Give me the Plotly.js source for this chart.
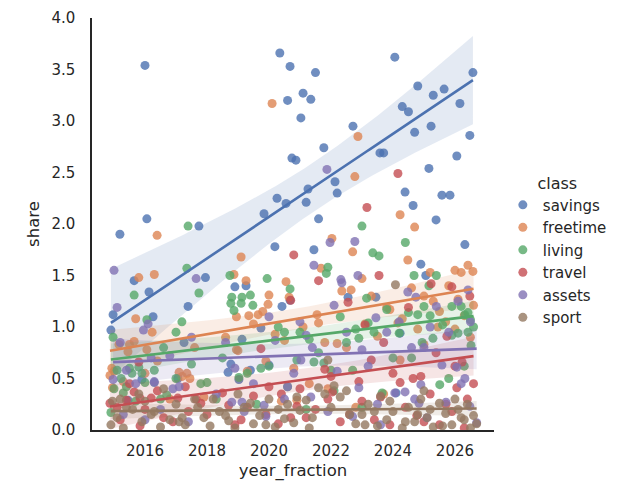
<!DOCTYPE html>
<html>
<head>
<meta charset="utf-8">
<script src="https://cdn.plot.ly/plotly-3.0.1.min.js"></script>
<style>
  html, body { margin: 0; padding: 0; background: #ffffff; }
  #chart { width: 619px; height: 500px; }
</style>
</head>
<body>
<div id="chart"></div>
<script>
// Class names and colours (seaborn "deep" palette order)
const classes = ["savings", "freetime", "living", "travel", "assets", "sport"];
const colors = ["#4C72B0", "#DD8452", "#55A868", "#C44E52", "#8172B3", "#937860"];

// savings (some observations lie above the 4.0 axis limit)
const savingsX = [2014.97, 2014.90, 2015.19, 2015.65, 2016.00, 2016.06, 2016.13, 2016.26, 2016.30, 2015.90,
  2015.45, 2017.39, 2017.26, 2017.06, 2017.74, 2017.95, 2018.77, 2018.68, 2019.03, 2019.40,
  2020.00, 2019.13, 2019.74, 2020.42, 2018.90, 2019.26, 2019.84, 2020.26, 2020.55, 2020.19,
  2020.68, 2020.35, 2020.68, 2020.60, 2020.74, 2020.87, 2021.03, 2021.10, 2021.35, 2021.50,
  2021.26, 2021.20, 2021.60, 2021.45, 2021.77, 2022.13, 2022.20, 2022.71, 2022.55, 2023.45,
  2023.58, 2023.70, 2024.06, 2024.30, 2024.50, 2024.80, 2024.70, 2025.30, 2025.65, 2025.23,
  2026.58, 2026.16, 2026.48, 2026.06, 2025.16, 2024.39, 2024.65, 2025.58, 2025.84, 2025.39,
  2026.32, 2024.90, 2025.06, 2024.23, 2024.10,
  2023.90, 2024.60, 2025.00, 2025.50, 2025.90, 2026.30, 2026.55,
  2016.60, 2020.90, 2022.40, 2023.20];
const savingsY = [1.12, 0.97, 1.90, 1.45, 3.54, 2.05, 1.34, 1.10, 0.46, 0.49,
  0.29, 1.20, 0.85, 0.50, 1.98, 1.48, 0.64, 0.56, 0.49, 0.58,
  0.63, 0.88, 0.99, 1.20, 1.39, 1.40, 2.10, 2.25, 2.20, 1.78,
  1.26, 3.66, 3.53, 3.20, 2.64, 2.62, 3.03, 3.27, 3.21, 3.47,
  2.34, 2.21, 2.05, 1.75, 2.74, 2.41, 2.30, 2.95, 1.29, 1.29,
  2.69, 2.69, 3.62, 3.14, 3.09, 3.34, 2.89, 3.25, 3.31, 2.95,
  3.47, 3.17, 2.86, 2.66, 2.54, 2.31, 2.18, 2.28, 2.28, 2.04,
  1.80, 1.61, 1.50, 0.94, 0.36,
  4.60, 5.20, 4.70, 5.60, 4.90, 5.30, 4.50,
  4.30, 4.50, 4.20, 4.60];

// freetime
const freetimeX = [2014.87, 2014.95, 2014.93, 2015.16, 2015.65, 2015.70, 2015.45, 2016.23, 2016.06, 2015.80,
  2016.30, 2016.39, 2017.10, 2017.35, 2017.45, 2018.95, 2019.35, 2019.65, 2019.80, 2019.97,
  2019.10, 2018.87, 2019.26, 2020.00, 2020.55, 2020.65, 2020.10, 2019.30, 2018.95, 2021.68,
  2022.03, 2022.70, 2022.77, 2022.87, 2023.00, 2022.35, 2022.65, 2021.55, 2021.60, 2022.20,
  2020.90, 2021.90, 2023.80, 2024.23, 2024.70, 2024.48, 2025.20, 2026.00, 2026.20, 2026.42,
  2026.58, 2024.16, 2025.45, 2024.23, 2025.00, 2025.30, 2025.80, 2026.10, 2024.60, 2023.30,
  2015.00, 2015.30, 2015.50, 2016.00, 2016.40, 2016.80, 2017.20, 2017.60, 2018.60, 2019.00,
  2019.50, 2019.90, 2020.20, 2020.50, 2020.80, 2021.10, 2021.30, 2021.80, 2022.50, 2022.80,
  2023.10, 2023.50, 2023.90, 2024.30, 2024.80, 2025.00, 2025.50, 2025.70, 2026.00, 2026.30,
  2026.50, 2026.60, 2017.90, 2020.40, 2023.70];
const freetimeY = [0.53, 0.41, 0.60, 0.83, 0.86, 1.08, 0.76, 0.95, 0.78, 1.48,
  1.51, 1.89, 0.56, 0.55, 0.50, 1.10, 1.11, 1.12, 1.15, 1.22,
  1.68, 1.51, 1.45, 1.31, 1.44, 1.29, 3.17, 0.57, 0.78, 1.57,
  1.86, 1.73, 2.46, 2.85, 1.47, 1.35, 1.36, 1.12, 1.04, 0.84,
  0.29, 0.40, 1.19, 2.09, 1.97, 1.65, 1.53, 1.55, 1.53, 1.60,
  1.54, 1.04, 1.00, 0.68, 1.30, 1.25, 1.40, 1.27, 1.38, 1.30,
  0.57, 0.47, 0.83, 0.55, 0.67, 0.30, 0.52, 0.80, 0.90, 0.77,
  1.03, 0.67, 0.93, 0.87, 0.60, 1.00, 0.45, 0.85, 0.80, 0.22,
  1.03, 0.91, 1.17, 1.08, 0.98, 0.83, 1.15, 1.05, 0.98, 1.11,
  0.90, 1.21, 0.32, 0.28, 0.35];

// living
const livingX = [2015.65, 2017.39, 2017.35, 2017.74, 2018.74, 2019.94, 2018.80, 2019.13, 2019.40, 2020.68,
  2023.00, 2023.35, 2023.55, 2021.90, 2021.85, 2023.15, 2024.40, 2024.68, 2025.40, 2025.16,
  2014.97, 2016.06, 2015.10, 2015.23, 2015.58, 2015.80, 2015.90, 2017.19, 2018.77, 2019.10,
  2019.48, 2018.87, 2019.03, 2019.74, 2021.45, 2021.77, 2022.90, 2023.39, 2022.70, 2023.65,
  2024.80, 2025.20, 2024.94, 2025.29, 2026.10, 2026.42, 2026.52, 2025.51, 2026.32, 2026.42,
  2025.90, 2020.30, 2021.00, 2016.60, 2017.00, 2022.30, 2024.00, 2014.90,
  2015.00, 2015.30, 2015.50, 2015.70, 2016.00, 2016.30, 2016.70, 2017.00, 2017.50, 2018.00,
  2018.50, 2019.30, 2020.00, 2020.50, 2020.90, 2021.30, 2021.60, 2022.00, 2022.50, 2022.80,
  2023.20, 2023.80, 2024.20, 2024.50, 2025.00, 2025.60, 2025.90, 2026.20, 2026.50, 2026.60,
  2015.40, 2016.50, 2017.80, 2018.30, 2019.60, 2020.60, 2022.10, 2023.00, 2024.60, 2025.80,
  2026.30, 2021.20];
const livingY = [1.31, 1.98, 1.57, 1.33, 1.50, 1.47, 1.29, 1.29, 1.31, 1.37,
  1.98, 1.72, 1.69, 1.58, 1.52, 1.28, 1.82, 1.50, 1.50, 1.40,
  0.90, 1.07, 0.58, 0.50, 0.55, 0.61, 0.55, 1.05, 1.23, 1.23,
  1.21, 1.16, 0.51, 0.60, 0.66, 0.65, 0.89, 0.95, 0.58, 0.36,
  1.12, 1.11, 0.85, 0.89, 0.94, 0.95, 0.82, 0.44, 1.12, 1.14,
  1.20, 1.00, 0.95, 0.80, 0.95, 1.10, 0.70, 0.17,
  0.40, 0.36, 0.60, 0.28, 0.46, 0.58, 0.34, 0.50, 0.64, 0.46,
  0.70, 0.55, 0.62, 0.95, 0.68, 0.88, 0.75, 0.58, 0.85, 0.98,
  1.04, 1.17, 0.94, 1.14, 1.20, 1.02, 0.92, 1.20, 1.07, 1.00,
  0.42, 0.30, 0.45, 0.30, 0.25, 0.42, 0.38, 0.22, 0.70, 0.50,
  0.62, 0.20];

// travel
const travelX = [2023.16, 2020.80, 2023.55, 2021.60, 2024.16, 2025.23, 2025.90, 2026.48, 2020.70, 2022.55,
  2023.10, 2023.70, 2023.30, 2021.80, 2022.90, 2022.05, 2023.60, 2020.90, 2024.50, 2025.74,
  2025.39, 2026.23, 2024.65, 2024.90, 2026.06, 2024.23, 2025.71, 2024.77, 2015.65, 2015.84,
  2016.20, 2014.87, 2015.10, 2015.40, 2017.06, 2015.84, 2019.74, 2020.00, 2017.65, 2017.80,
  2015.80, 2016.60, 2017.40, 2018.70, 2019.10, 2019.50, 2020.30, 2021.20, 2022.30, 2023.90,
  2025.00, 2026.30, 2026.60, 2021.90, 2018.90,
  2015.20, 2015.50, 2016.00, 2016.40, 2016.90, 2017.30, 2018.00, 2018.50, 2019.30, 2019.90,
  2020.40, 2020.70, 2021.00, 2021.50, 2022.00, 2022.60, 2023.00, 2023.40, 2024.00, 2024.40,
  2025.20, 2025.50, 2025.90, 2026.40, 2026.00];
const travelY = [2.16, 1.70, 1.50, 1.45, 2.49, 1.42, 1.39, 1.30, 1.26, 1.24,
  1.02, 0.85, 0.68, 0.59, 0.47, 0.37, 0.32, 0.23, 1.19, 0.91,
  0.75, 0.66, 0.50, 0.52, 0.41, 0.46, 0.25, 0.14, 0.37, 0.31,
  0.31, 0.26, 0.22, 0.29, 0.31, 0.04, 0.79, 0.42, 0.30, 0.26,
  0.66, 0.12, 0.18, 0.24, 0.10, 0.33, 0.06, 0.12, 0.08, 0.05,
  0.08, 0.02, 0.45, 0.30, 0.05,
  0.10, 0.45, 0.20, 0.38, 0.08, 0.42, 0.15, 0.36, 0.22, 0.15,
  0.35, 0.12, 0.40, 0.20, 0.52, 0.15, 0.28, 0.10, 0.55, 0.22,
  0.35, 0.05, 0.18, 0.30, 0.62];

// assets
const assetsX = [2015.00, 2017.65, 2021.87, 2021.97, 2022.77, 2021.45, 2022.32, 2022.87, 2022.35, 2024.48,
  2024.74, 2026.42, 2015.10, 2015.95, 2014.97, 2017.10, 2015.30, 2016.00, 2016.50, 2017.40,
  2018.80, 2019.20, 2019.90, 2020.60, 2019.13, 2019.84, 2022.10, 2023.45, 2021.20, 2021.03,
  2023.00, 2022.20, 2021.35, 2022.90, 2022.70, 2025.58, 2026.06, 2026.32, 2024.90, 2024.39,
  2024.06, 2024.84, 2025.71, 2026.48, 2015.40, 2016.10, 2016.80, 2020.20, 2021.00, 2023.80,
  2024.60, 2025.20, 2016.30, 2018.90, 2020.50, 2023.60, 2025.10, 2026.70,
  2015.20, 2015.70, 2016.20, 2016.90, 2017.50, 2018.30, 2018.60, 2019.50, 2020.00, 2020.80,
  2021.40, 2021.90, 2022.50, 2023.20, 2023.50, 2024.20, 2024.70, 2025.00, 2025.40, 2025.80,
  2026.10, 2026.50, 2026.20];
const assetsY = [1.55, 1.47, 2.53, 1.82, 1.83, 1.60, 1.46, 1.50, 1.43, 1.34,
  1.29, 1.36, 1.19, 0.97, 0.49, 0.42, 0.15, 0.10, 0.20, 0.08,
  0.27, 0.18, 0.13, 0.42, 0.27, 0.24, 1.21, 1.09, 0.92, 0.68,
  0.78, 0.57, 0.32, 0.41, 0.13, 0.63, 0.61, 0.50, 0.44, 0.37,
  0.36, 0.26, 0.27, 0.23, 0.58, 1.03, 0.72, 0.87, 1.05, 0.95,
  0.80, 1.00, 0.47, 0.60, 0.30, 0.05, 0.12, 0.07,
  0.85, 0.45, 0.70, 0.40, 0.90, 0.35, 0.85, 0.45, 1.10, 0.55,
  0.80, 0.18, 0.95, 0.62, 0.25, 1.05, 0.30, 0.80, 1.20, 0.95,
  1.25, 1.05, 0.45];

// sport
const sportX = [2014.90, 2015.10, 2015.30, 2015.60, 2015.90, 2016.20, 2016.50, 2016.80, 2017.00, 2017.30,
  2017.60, 2017.90, 2018.10, 2018.40, 2018.70, 2018.90, 2019.20, 2019.50, 2019.70, 2020.00,
  2020.20, 2020.50, 2020.80, 2021.00, 2021.30, 2021.60, 2021.80, 2021.90, 2022.10, 2022.30,
  2022.50, 2022.80, 2023.00, 2023.20, 2023.50, 2023.80, 2024.00, 2024.08, 2024.30, 2024.50,
  2024.70, 2024.90, 2025.10, 2025.30, 2025.50, 2025.70, 2025.90, 2026.10, 2026.30, 2026.50,
  2026.60, 2015.20, 2016.00, 2017.20, 2019.00, 2020.60, 2023.60, 2025.00, 2026.00, 2021.20,
  2014.95, 2015.40, 2015.80, 2016.30, 2016.60, 2017.10, 2017.70, 2018.20, 2018.60, 2019.40,
  2019.90, 2020.30, 2020.90, 2021.40, 2022.00, 2022.60, 2023.10, 2023.40, 2023.90, 2024.40,
  2024.80, 2025.20, 2025.60, 2026.20, 2026.40, 2026.70];
const sportY = [0.05, 0.12, 0.02, 0.20, 0.08, 0.15, 0.03, 0.10, 0.25, 0.05,
  0.30, 0.12, 0.04, 0.18, 0.09, 0.02, 0.22, 0.06, 0.14, 0.30,
  0.03, 0.11, 0.07, 0.19, 0.02, 0.41, 0.35, 0.68, 0.43, 0.32,
  0.38, 0.06, 0.15, 0.25, 0.04, 0.10, 0.18, 1.41, 0.02, 0.22,
  0.08, 0.30, 0.12, 0.03, 0.26, 0.16, 0.05, 0.20, 0.10, 0.02,
  0.14, 0.30, 0.28, 0.12, 0.35, 0.25, 0.33, 0.38, 0.30, 0.29,
  0.28, 0.22, 0.35, 0.18, 0.40, 0.08, 0.22, 0.30, 0.14, 0.26,
  0.05, 0.20, 0.32, 0.12, 0.22, 0.15, 0.05, 0.18, 0.28, 0.08,
  0.15, 0.20, 0.04, 0.12, 0.25, 0.06];

const seriesX = [savingsX, freetimeX, livingX, travelX, assetsX, sportX];
const seriesY = [savingsY, freetimeY, livingY, travelY, assetsY, sportY];

// Ordinary least squares fit with a 95% confidence band for the mean
function linearFit(xs, ys, nGrid) {
  const n = xs.length;
  const mx = xs.reduce((a, b) => a + b, 0) / n;
  const my = ys.reduce((a, b) => a + b, 0) / n;
  let sxx = 0, sxy = 0;
  for (let i = 0; i < n; i++) {
    sxx += (xs[i] - mx) * (xs[i] - mx);
    sxy += (xs[i] - mx) * (ys[i] - my);
  }
  const slope = sxy / sxx;
  const icpt = my - slope * mx;
  let sse = 0;
  for (let i = 0; i < n; i++) {
    const r = ys[i] - (icpt + slope * xs[i]);
    sse += r * r;
  }
  const df = n - 2;
  const s = Math.sqrt(sse / df);
  const t = 1.96 + 2.4 / df;
  const lo = Math.min(...xs), hi = Math.max(...xs);
  const gx = [], gy = [], up = [], dn = [];
  for (let k = 0; k < nGrid; k++) {
    const x = lo + (hi - lo) * k / (nGrid - 1);
    const yhat = icpt + slope * x;
    const se = s * Math.sqrt(1 / n + (x - mx) * (x - mx) / sxx);
    gx.push(x); gy.push(yhat);
    up.push(yhat + t * se); dn.push(yhat - t * se);
  }
  return { gx, gy, up, dn };
}

function rgba(hex, a) {
  const v = parseInt(hex.slice(1), 16);
  return `rgba(${(v >> 16) & 255},${(v >> 8) & 255},${v & 255},${a})`;
}

// Points and confidence bands per class; fitted lines drawn last, on top
const traces = [];
const lineTraces = [];
classes.forEach((name, i) => {
  const fit = linearFit(seriesX[i], seriesY[i], 100);
  traces.push({
    type: "scatter", mode: "markers", name: name,
    x: seriesX[i], y: seriesY[i],
    marker: { color: colors[i], size: 9, opacity: 0.8, line: { width: 0 } },
    hoverinfo: "x+y+name", cliponaxis: true
  });
  traces.push({
    type: "scatter", mode: "lines", showlegend: false, hoverinfo: "skip",
    x: fit.gx.concat(fit.gx.slice().reverse()),
    y: fit.up.concat(fit.dn.slice().reverse()),
    fill: "toself", fillcolor: rgba(colors[i], 0.15),
    line: { width: 0, color: "rgba(0,0,0,0)" }
  });
  lineTraces.push({
    type: "scatter", mode: "lines", showlegend: false, hoverinfo: "skip",
    x: fit.gx, y: fit.gy,
    line: { color: colors[i], width: 2.6 }
  });
});

const font = "DejaVu Sans, Verdana, sans-serif";
const layout = {
  width: 619, height: 500,
  margin: { l: 92, r: 125, t: 18, b: 70, autoexpand: false },
  paper_bgcolor: "#ffffff", plot_bgcolor: "#ffffff",
  font: { family: font, color: "#262626", size: 15 },
  showlegend: true,
  xaxis: {
    range: [2014.29, 2027.26], tickvals: [2016, 2018, 2020, 2022, 2024, 2026],
    ticktext: ["2016", "2018", "2020", "2022", "2024", "2026"],
    showgrid: false, zeroline: false, showline: true, linecolor: "#262626", linewidth: 1.6,
    ticks: "", ticklabelstandoff: 6, tickfont: { size: 15 },
    title: { text: "year_fraction", font: { size: 16.5 }, standoff: 6 },
    automargin: false
  },
  yaxis: {
    range: [0, 4], tickvals: [0, 0.5, 1, 1.5, 2, 2.5, 3, 3.5, 4],
    ticktext: ["0.0", "0.5", "1.0", "1.5", "2.0", "2.5", "3.0", "3.5", "4.0"],
    showgrid: false, zeroline: false, showline: true, linecolor: "#262626", linewidth: 1.6,
    ticks: "", ticklabelstandoff: 12, tickfont: { size: 15 },
    title: { text: "share", font: { size: 16.5 }, standoff: 8 },
    automargin: false
  },
  legend: {
    x: 1.022, xanchor: "left", y: 0.435, yanchor: "middle",
    title: { text: "class", font: { size: 16 }, side: "top center" },
    font: { size: 15 }, bgcolor: "rgba(0,0,0,0)", borderwidth: 0
  }
};

Plotly.newPlot("chart", traces.concat(lineTraces), layout, { displayModeBar: false, staticPlot: true });
</script>
</body>
</html>
